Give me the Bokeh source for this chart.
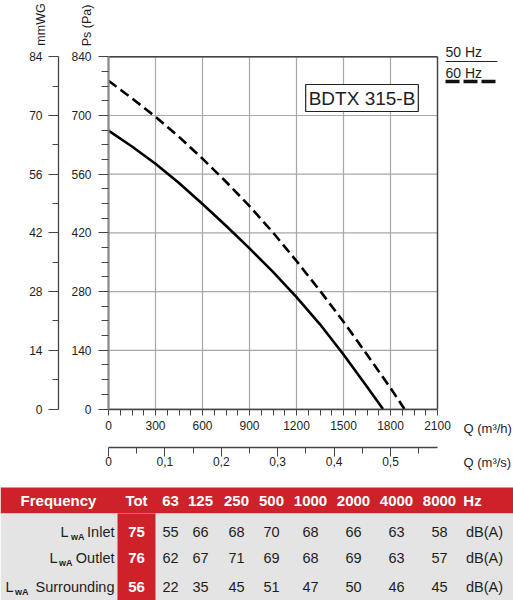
import math
from bokeh.plotting import figure
from bokeh.models import Range1d, LinearAxis, FixedTicker, Label
from bokeh.embed import file_html
from bokeh.resources import INLINE
from bokeh.core.properties import value

# ---------------- data ----------------
q_50 = [0, 150, 300, 450, 600, 750, 900, 1050, 1200, 1350, 1500, 1650, 1752]
ps_50 = [664, 626, 585, 539, 489, 437, 383, 327, 267, 202, 130, 53, 0]
q_60 = [0, 150, 300, 450, 600, 750, 900, 1050, 1200, 1350, 1500, 1650, 1800, 1889]
ps_60 = [783, 741, 697, 649, 597, 542, 484, 421, 353, 282, 208, 130, 50, 0]

q_ticks = [0, 300, 600, 900, 1200, 1500, 1800, 2100]
ps_ticks = [0, 140, 280, 420, 560, 700, 840]
mmwg_ticks = [0, 14, 28, 42, 56, 70, 84]
qs_ticks = [0, 0.1, 0.2, 0.3, 0.4, 0.5]
qs_labels = ["0", "0,1", "0,2", "0,3", "0,4", "0,5"]

model_name = "BDTX 315-B"
legend_labels = ["50 Hz", "60 Hz"]
y_title_mm = "mmWG"
y_title_ps = "Ps (Pa)"
x_title_h = "Q (m³/h)"
x_title_s = "Q (m³/s)"

freq_header = ["Frequency", "Tot", "63", "125", "250", "500", "1000", "2000", "4000", "8000", "Hz"]
row_names = ["Inlet", "Outlet", "Surrounding"]
tot_values = [75, 76, 56]
inlet = [55, 66, 68, 70, 68, 66, 63, 58]
outlet = [62, 67, 71, 69, 68, 69, 63, 57]
surrounding = [22, 35, 45, 51, 47, 50, 46, 45]
unit = "dB(A)"

# ---------------- layout / style ----------------
FONT_NAME = "Liberation Sans"
FONT = value(FONT_NAME)
W, H = 513, 600
RED = "#cd2229"
GRAY = "#e4e4e4"
INK = "#1e1e1e"
GRID = "#a8a8a8"
PA_PER_MMWG = 10.0
M3H_PER_M3S = 3600.0

# pixel -> data helpers (chart frame: x 108..437 px, y 56.3..408.5 px)
def rx(px):
    return (px - 108) / 329.0 * 2100

def ry(py):
    return (408.5 - py) / 58.7 * 140

p = figure(width=W, height=H, x_range=Range1d(rx(0), rx(W)), y_range=Range1d(ry(H), ry(0)),
           output_backend="svg", toolbar_location=None, x_axis_type=None, y_axis_type=None,
           min_border=0)
p.title.visible = False
p.outline_line_color = None
p.background_fill_color = "white"
p.border_fill_color = "white"

p.extra_y_ranges = {
    "mmwg": Range1d(ry(H) / PA_PER_MMWG, ry(0) / PA_PER_MMWG),
    "ty": Range1d(H, 0),
}
p.extra_x_ranges = {
    "qs": Range1d(rx(0) / M3H_PER_M3S, rx(W) / M3H_PER_M3S),
    "tx": Range1d(0, W),
}

# ---- grid and frame (from tick arrays) ----
n_q, n_p = len(q_ticks), len(ps_ticks)
p.segment(x0=q_ticks, y0=[ps_ticks[0]] * n_q, x1=q_ticks, y1=[ps_ticks[-1]] * n_q,
          line_color=GRID, line_width=1.2)
p.segment(x0=[q_ticks[0]] * n_p, y0=ps_ticks, x1=[q_ticks[-1]] * n_p, y1=ps_ticks,
          line_color=GRID, line_width=1.2)
p.segment(x0=[q_ticks[0], q_ticks[-1]], y0=[ps_ticks[-1], ps_ticks[0]],
          x1=[q_ticks[-1], q_ticks[-1]], y1=[ps_ticks[-1], ps_ticks[-1]],
          line_color="#444444", line_width=1.4)

# ---- curves ----
p.line(q_50, ps_50, line_color="black", line_width=2.6, line_join="round")
p.line(q_60, ps_60, line_color="black", line_width=2.6, line_dash="10 5")

# ---- axes ----
def style_axis(ax, size="12px"):
    ax.major_label_text_font = FONT_NAME
    ax.major_label_text_font_size = size
    ax.major_label_text_color = INK
    ax.major_tick_in = 0
    ax.minor_tick_in = 0
    ax.major_tick_line_color = "#444444"
    ax.minor_tick_line_color = "#444444"
    ax.axis_line_color = "#444444"

ps_minor = [v for v in range(0, 841, 35) if v % 140 != 0]
ax_ps = LinearAxis(ticker=FixedTicker(ticks=ps_ticks, minor_ticks=ps_minor),
                   fixed_location=0, bounds=(ps_ticks[0], ps_ticks[-1]))
style_axis(ax_ps)
ax_ps.major_tick_out = 10
ax_ps.minor_tick_out = 7
ax_ps.major_label_standoff = 7
ax_ps.axis_line_color = "#8a8a8a"
ax_ps.axis_line_width = 2.2
p.add_layout(ax_ps, "left")

mm_minor = [v for v in range(0, 85, 7) if v % 14 != 0]
ax_mm = LinearAxis(y_range_name="mmwg", ticker=FixedTicker(ticks=mmwg_ticks, minor_ticks=mm_minor),
                   fixed_location=rx(58), bounds=(mmwg_ticks[0], mmwg_ticks[-1]))
style_axis(ax_mm)
ax_mm.major_tick_out = 10
ax_mm.minor_tick_out = 6
ax_mm.major_label_standoff = 6
ax_mm.axis_line_width = 1.3
p.add_layout(ax_mm, "left")

q_minor = [v for v in range(0, 2101, 75) if v % 300 != 0]
ax_q = LinearAxis(ticker=FixedTicker(ticks=q_ticks, minor_ticks=q_minor),
                  fixed_location=0, bounds=(q_ticks[0], q_ticks[-1]))
style_axis(ax_q)
ax_q.major_tick_out = 6
ax_q.minor_tick_out = 6
ax_q.major_label_standoff = 6
ax_q.axis_line_width = 1.4
p.add_layout(ax_q, "below")

qs_minor = [0.05, 0.15, 0.25, 0.35, 0.45, 0.55]
ax_qs = LinearAxis(x_range_name="qs", ticker=FixedTicker(ticks=qs_ticks, minor_ticks=qs_minor),
                   major_label_overrides=dict(zip(qs_ticks, qs_labels)),
                   fixed_location=ry(447), bounds=(0, q_ticks[-1] / M3H_PER_M3S))
style_axis(ax_qs)
ax_qs.major_tick_out = 9
ax_qs.minor_tick_out = 6
ax_qs.major_label_standoff = 0
ax_qs.axis_line_width = 1.3
p.add_layout(ax_qs, "below")

# ---- titles / annotations ----
for txt, px, py in [(y_title_mm, 40, 24), (y_title_ps, 86, 25)]:
    p.add_layout(Label(x=rx(px), y=ry(py), text=txt, angle=math.pi / 2, text_align="center",
                       text_baseline="middle", text_font=FONT_NAME,
                       text_font_size="12.5px", text_color=INK))

for txt, py in [(x_title_h, 428), (x_title_s, 462)]:
    p.add_layout(Label(x=rx(463), y=ry(py), text=txt, text_align="left", text_baseline="middle",
                       text_font=FONT_NAME, text_font_size="13px", text_color=INK))

p.add_layout(Label(x=rx(361.5), y=ry(97.5), text=model_name, text_align="center",
                   text_baseline="middle", text_font=FONT_NAME, text_font_size="19px",
                   text_color=INK, border_line_color="#222222", border_line_width=1.2,
                   background_fill_color="white", padding=3))

for txt, py in zip(legend_labels, [51, 72]):
    p.add_layout(Label(x=rx(445), y=ry(py), text=txt, text_align="left", text_baseline="middle",
                       text_font=FONT_NAME, text_font_size="14px", text_color=INK))
p.segment(x0=[rx(445)], y0=[ry(61)], x1=[rx(497)], y1=[ry(61)], line_color="#222222", line_width=1.2)
p.segment(x0=[rx(445)], y0=[ry(81)], x1=[rx(497)], y1=[ry(81)], line_color="#111111",
          line_width=3.5, line_dash="14 4")

# ---------------- table (pixel space via tx/ty ranges) ----------------
TBL_TOP, HDR_BOT, TBL_BOT = 487, 513, 600
TOT_L, TOT_R = 117, 155
kw = dict(x_range_name="tx", y_range_name="ty")
p.quad(left=[0], right=[W], top=[TBL_TOP], bottom=[HDR_BOT], fill_color=RED, line_color=None, **kw)
p.quad(left=[0], right=[W], top=[HDR_BOT], bottom=[TBL_BOT], fill_color=GRAY, line_color=None, **kw)
p.quad(left=[TOT_L], right=[TOT_R], top=[HDR_BOT], bottom=[TBL_BOT], fill_color=RED, line_color=None, **kw)

header_x = [58, 136, 170, 200, 236, 271, 310, 353, 396, 439, 472]
header_y = 500
p.text(x=header_x, y=[header_y] * len(header_x), text=freq_header, text_align="center",
       text_baseline="middle", text_font=FONT, text_font_size="15px", text_font_style="bold",
       text_color="white", **kw)

row_y = [531, 557.5, 586]
rows = [inlet, outlet, surrounding]
unit_x = 484
vx, vy, vt = [], [], []
for yy, vals in zip(row_y, rows):
    for xx, v in zip(header_x[2:10], vals):
        vx.append(xx); vy.append(yy); vt.append(str(v))
    vx.append(unit_x); vy.append(yy); vt.append(unit)
p.text(x=vx, y=vy, text=vt, text_align="center", text_baseline="middle", text_font=FONT,
       text_font_size="14.5px", text_color=INK, **kw)

p.text(x=[136] * 3, y=row_y, text=[str(v) for v in tot_values], text_align="center",
       text_baseline="middle", text_font=FONT, text_font_size="15px", text_font_style="bold",
       text_color="white", **kw)

name_right = 114
sub_right = [84, 72, 28]
l_right = [68, 57, 13]
p.text(x=[name_right] * 3, y=row_y, text=row_names, text_align="right", text_baseline="middle",
       text_font=FONT, text_font_size="14.5px", text_color=INK, **kw)
p.text(x=sub_right, y=[y + 5 for y in row_y], text=["wA"] * 3, text_align="right",
       text_baseline="middle", text_font=FONT, text_font_size="9px", text_font_style="bold",
       text_color=INK, **kw)
p.text(x=l_right, y=row_y, text=["L"] * 3, text_align="right", text_baseline="middle",
       text_font=FONT, text_font_size="14.5px", text_color=INK, **kw)

open("out.html", "w").write(file_html(p, INLINE))
